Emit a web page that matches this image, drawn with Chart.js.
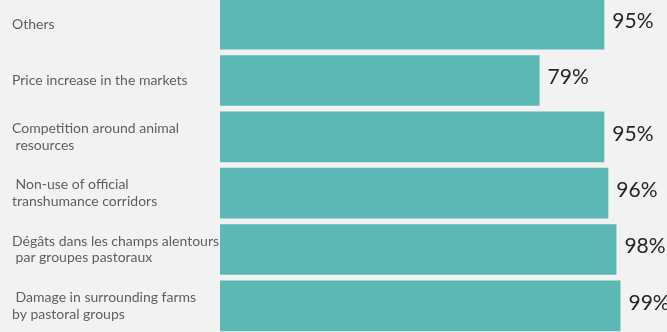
<!DOCTYPE html>
<html>
<head>
<meta charset="utf-8">
<script src="https://cdn.jsdelivr.net/npm/chart.js@4"></script>
<style>
  html, body { margin: 0; padding: 0; background: #f2f2f2; overflow: hidden; }
  #wrap { position: absolute; left: 0; top: -4px; width: 667px; height: 338px; }
</style>
</head>
<body>
<div id="wrap"><canvas id="chart-causes"></canvas></div>
<script>
// Categories (top to bottom) — leading spaces keep the slight indents of the original
const categories = [
  ['Others'],
  ['Price increase in the markets'],
  ['Competition around animal', ' resources'],
  [' Non-use of official', 'transhumance corridors'],
  ['Dégâts dans les champs alentours', ' par groupes pastoraux'],
  [' Damage in surrounding farms', 'by pastoral groups']
];
const values = [95, 79, 95, 96, 98, 99];
const valueLabels = ['95%', '79%', '95%', '96%', '98%', '99%'];

const TEAL = '#5cb8b4';

// Draw the percentage next to each bar
const valueLabelPlugin = {
  id: 'valueLabels',
  afterDatasetsDraw(chart) {
    const ctx = chart.ctx;
    const meta = chart.getDatasetMeta(0);
    ctx.save();
    ctx.font = '21px Lato, "Open Sans", sans-serif';
    ctx.fillStyle = '#262626';
    ctx.textAlign = 'left';
    ctx.textBaseline = 'middle';
    meta.data.forEach((bar, i) => {
      ctx.fillText(valueLabels[i], bar.x + 8, bar.y - 3);
    });
    ctx.restore();
  }
};

new Chart(document.getElementById('chart-causes'), {
  type: 'bar',
  data: {
    labels: categories,
    datasets: [{
      data: values,
      backgroundColor: TEAL,
      borderWidth: 0,
      barPercentage: 0.9,
      categoryPercentage: 1
    }]
  },
  options: {
    indexAxis: 'y',
    responsive: true,
    maintainAspectRatio: false,
    animation: false,
    layout: { padding: { left: 12, right: 0, top: 0, bottom: 0 } },
    plugins: {
      legend: { display: false },
      tooltip: { enabled: false }
    },
    scales: {
      x: {
        display: false,
        min: 0,
        max: 110.5
      },
      y: {
        grid: { display: false },
        border: { display: false },
        afterFit(scale) {
          scale.width = 208;
          scale.paddingTop = 0;
          scale.paddingBottom = 0;
        },
        ticks: {
          crossAlign: 'far',
          color: '#5f5f5f',
          padding: 0,
          autoSkip: false,
          font: { family: 'Lato, "Open Sans", sans-serif', size: 14, lineHeight: 1.2 }
        }
      }
    }
  },
  plugins: [valueLabelPlugin]
});
</script>
</body>
</html>
